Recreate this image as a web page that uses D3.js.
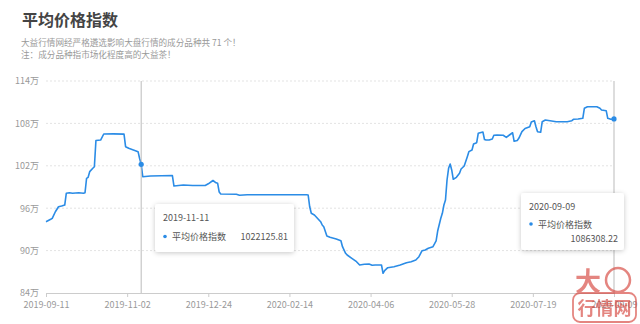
<!DOCTYPE html>
<html>
<head>
<meta charset="utf-8">
<script src="https://cdn.jsdelivr.net/npm/d3@7"></script>
<style>
  html, body { margin: 0; padding: 0; background: #fff; }
  #main { width: 640px; height: 324px; }
  text { font-family: "Noto Sans CJK SC", "Noto Sans", sans-serif; }
</style>
</head>
<body>
<div id="main"></div>
<script>
const title = "平均价格指数";
const subtitle = ["大益行情网经严格遴选影响大盘行情的成分品种共 71 个！", "注：成分品种指市场化程度高的大益茶！"];
const seriesName = "平均价格指数";

const dates = [
  "2019-09-11","2019-09-14","2019-09-15","2019-09-17","2019-09-19","2019-09-21","2019-09-23","2019-09-24",
  "2019-09-26","2019-09-28","2019-10-02","2019-10-05","2019-10-06","2019-10-07","2019-10-08","2019-10-09",
  "2019-10-11","2019-10-12","2019-10-13","2019-10-16","2019-10-18","2019-10-24","2019-10-31","2019-11-01",
  "2019-11-03","2019-11-06","2019-11-09","2019-11-10","2019-11-11","2019-11-12","2019-11-17","2019-11-24",
  "2019-12-01","2019-12-02","2019-12-08","2019-12-14","2019-12-22","2019-12-24","2019-12-27","2019-12-29",
  "2019-12-30","2019-12-31","2020-01-01","2020-01-11","2020-01-13","2020-01-18","2020-02-08","2020-02-25",
  "2020-02-26","2020-02-27","2020-02-28","2020-03-01","2020-03-05","2020-03-06","2020-03-07","2020-03-09",
  "2020-03-11","2020-03-15","2020-03-18","2020-03-19","2020-03-21","2020-03-22","2020-03-25","2020-03-28",
  "2020-03-30","2020-04-02","2020-04-05","2020-04-07","2020-04-09","2020-04-13","2020-04-14","2020-04-15",
  "2020-04-17","2020-04-21","2020-04-25","2020-04-29","2020-05-02","2020-05-05","2020-05-07","2020-05-09",
  "2020-05-11","2020-05-13","2020-05-16","2020-05-18","2020-05-19","2020-05-21","2020-05-22","2020-05-23",
  "2020-05-24","2020-05-25","2020-05-26","2020-05-27","2020-05-28","2020-05-29","2020-05-31","2020-06-02",
  "2020-06-03","2020-06-05","2020-06-07","2020-06-08","2020-06-10","2020-06-11","2020-06-13","2020-06-14",
  "2020-06-17","2020-06-18","2020-06-19","2020-06-21","2020-06-23","2020-06-24","2020-06-26","2020-06-30",
  "2020-07-02","2020-07-04","2020-07-06","2020-07-07","2020-07-09","2020-07-10","2020-07-12","2020-07-14",
  "2020-07-17","2020-07-18","2020-07-20","2020-07-21","2020-07-22","2020-07-24","2020-07-25","2020-07-27",
  "2020-07-30","2020-08-03","2020-08-10","2020-08-13","2020-08-14","2020-08-17","2020-08-20","2020-08-21",
  "2020-08-23","2020-08-29","2020-08-31","2020-09-01","2020-09-04","2020-09-05","2020-09-07","2020-09-09"
];

const values = [
  940900, 944300, 945700, 955000, 962100, 963100, 964500, 981100,
  981900, 981100, 981900, 981100, 981900, 1002300, 1003700, 1011700,
  1016500, 1018700, 1055800, 1056500, 1065000, 1065200, 1064800, 1047000,
  1044800, 1042400, 1040000, 1030300, 1022125.81, 1004600, 1005600, 1006000,
  1006200, 991400, 992800, 992100, 992100, 994500, 999200, 995900,
  995200, 982900, 980100, 979700, 978300, 979100, 979000, 979000,
  978700, 962000, 952800, 950400, 940900, 936200, 933800, 920700,
  918800, 916400, 914000, 905500, 896200, 893800, 889100, 884300,
  879600, 880600, 881000, 879200, 879600, 879600, 867900, 871600,
  875800, 877200, 879600, 882900, 884300, 886700, 891400, 899900,
  900900, 903300, 905500, 913600, 927700, 945700, 952800, 964500,
  971600, 999900, 1016500, 1022500, 1014100, 1000900, 1003700, 1009400,
  1015500, 1019700, 1032900, 1040000, 1042400, 1050800, 1052700, 1066000,
  1067800, 1057200, 1056500, 1056500, 1057900, 1063200, 1063600, 1063200,
  1060300, 1063600, 1066800, 1054700, 1055800, 1058900, 1068300, 1072800,
  1075300, 1082000, 1083800, 1075300, 1068300, 1067400, 1082400, 1084800,
  1083800, 1082400, 1082400, 1083800, 1085800, 1086200, 1087200, 1101400,
  1103600, 1103600, 1101400, 1099000, 1098000, 1087200, 1085800, 1086308.22
];

const xTickLabels = ["2019-09-11", "2019-11-02", "2019-12-24", "2020-02-14", "2020-04-06", "2020-05-28", "2020-07-19", "2020-09-09"];
const yTicks = [840000, 900000, 960000, 1020000, 1080000, 1140000];
const tooltipDates = ["2019-11-11", "2020-09-09"];

const parse = d3.timeParse("%Y-%m-%d");
const data = dates.map((d, i) => ({ date: parse(d), label: d, value: values[i] }));

const elm = d3.select("#main");
const width = 640, height = 324;
const svg = elm.append("svg").attr("width", width).attr("height", height);

const plotLeft = 46, plotRight = 614, plotTop = 81, plotBottom = 293;

const x = d3.scaleTime()
  .domain([parse(xTickLabels[0]), parse(xTickLabels[xTickLabels.length - 1])])
  .range([plotLeft, plotRight]);

const y = d3.scaleLinear()
  .domain([yTicks[0], yTicks[yTicks.length - 1]])
  .range([plotBottom, plotTop]);

const defs = svg.append("defs");
const shadow = defs.append("filter").attr("id", "shadow")
  .attr("x", "-20%").attr("y", "-30%").attr("width", "140%").attr("height", "160%");
shadow.append("feDropShadow")
  .attr("dx", 0).attr("dy", 1).attr("stdDeviation", 2.5)
  .attr("flood-color", "#000").attr("flood-opacity", 0.22);

// title
svg.append("text")
  .attr("x", 22).attr("y", 26)
  .attr("font-size", 16).attr("font-weight", "bold")
  .attr("fill", "#444")
  .text(title);

svg.selectAll(".sub")
  .data(subtitle)
  .enter()
  .append("text")
  .attr("class", "sub")
  .attr("x", 21).attr("y", (d, i) => 46 + i * 12)
  .attr("font-size", 8.6).attr("fill", "#999")
  .text(d => d);

// grid
svg.append("g")
  .selectAll("line")
  .data(yTicks.slice(1))
  .enter()
  .append("line")
  .attr("x1", plotLeft).attr("x2", plotRight)
  .attr("y1", d => y(d)).attr("y2", d => y(d))
  .attr("stroke", "#e3e3e3")
  .attr("stroke-dasharray", "2,2");

// y axis
const yAxis = svg.append("g")
  .attr("transform", `translate(${plotLeft}, 0)`)
  .call(d3.axisLeft(y).tickValues(yTicks).tickSize(0).tickPadding(7).tickFormat(d => (d / 10000) + "万"));
yAxis.select(".domain").remove();
yAxis.selectAll("text").attr("font-size", 9).attr("fill", "#999")
  .attr("font-family", "\"Noto Sans CJK SC\", sans-serif");

// x axis
const xAxis = svg.append("g")
  .attr("transform", `translate(0, ${plotBottom})`)
  .call(d3.axisBottom(x)
    .tickValues(xTickLabels.map(parse))
    .tickSize(4).tickSizeOuter(0).tickPadding(5)
    .tickFormat(d3.timeFormat("%Y-%m-%d")));
xAxis.select(".domain").attr("stroke", "#ccc");
xAxis.selectAll(".tick line").attr("stroke", "#ccc");
xAxis.selectAll("text").attr("font-size", 9).attr("fill", "#999")
  .attr("font-family", "\"Noto Sans CJK SC\", sans-serif");

// line
const line = d3.line()
  .x(d => x(d.date))
  .y(d => y(d.value));

svg.append("path")
  .datum(data)
  .attr("d", line)
  .attr("fill", "none")
  .attr("stroke", "#2b8ce6")
  .attr("stroke-width", 1.6)
  .attr("stroke-linejoin", "round");

// crosshairs and tooltips
const tips = tooltipDates.map(t => data.find(d => d.label === t));

svg.append("g")
  .selectAll("line")
  .data(tips)
  .enter()
  .append("line")
  .attr("x1", d => x(d.date)).attr("x2", d => x(d.date))
  .attr("y1", plotTop).attr("y2", plotBottom)
  .attr("stroke", "#bbb").attr("stroke-width", 1);

svg.append("g")
  .selectAll("circle")
  .data(tips)
  .enter()
  .append("circle")
  .attr("cx", d => x(d.date)).attr("cy", d => y(d.value))
  .attr("r", 2.6)
  .attr("fill", "#2b8ce6");

const boxes = [
  { x: 155, y: 204, w: 139, h: 48, wrap: false },
  { x: 521, y: 193, w: 103, h: 57, wrap: true }
];

tips.forEach((t, i) => {
  const b = boxes[i];
  const g = svg.append("g").attr("transform", `translate(${b.x}, ${b.y})`);
  g.append("rect")
    .attr("width", b.w).attr("height", b.h)
    .attr("rx", 3)
    .attr("fill", "#fff")
    .attr("filter", "url(#shadow)");
  g.append("text")
    .attr("x", 8).attr("y", 17)
    .attr("font-size", 9).attr("fill", "#555")
    .text(t.label);
  g.append("circle")
    .attr("cx", 10).attr("cy", b.wrap ? 31 : 32.5)
    .attr("r", 1.8).attr("fill", "#2b8ce6");
  g.append("text")
    .attr("x", 17).attr("y", b.wrap ? 34.5 : 36)
    .attr("font-size", 9).attr("fill", "#555")
    .text(seriesName);
  g.append("text")
    .attr("x", b.w - 6).attr("y", b.wrap ? 49 : 36)
    .attr("text-anchor", "end")
    .attr("font-size", 9).attr("fill", "#555")
    .text(d3.format(".2f")(t.value));
});

// watermark
const wm = svg.append("g").attr("opacity", 0.65);
wm.append("text")
  .attr("x", 588).attr("y", 291)
  .attr("text-anchor", "middle")
  .attr("font-size", 26).attr("font-weight", "bold")
  .attr("fill", "#d6453d")
  .text("大");
wm.append("circle")
  .attr("cx", 618).attr("cy", 280).attr("r", 12)
  .attr("fill", "none").attr("stroke", "#d6453d").attr("stroke-width", 2.5);
wm.append("rect")
  .attr("x", 573).attr("y", 293).attr("width", 63).attr("height", 29).attr("rx", 7)
  .attr("fill", "none").attr("stroke", "#d6453d").attr("stroke-width", 1.8);
wm.append("text")
  .attr("x", 604.5).attr("y", 315)
  .attr("text-anchor", "middle")
  .attr("font-size", 18).attr("font-weight", "bold")
  .attr("fill", "#d6453d")
  .text("行情网");
</script>
</body>
</html>
